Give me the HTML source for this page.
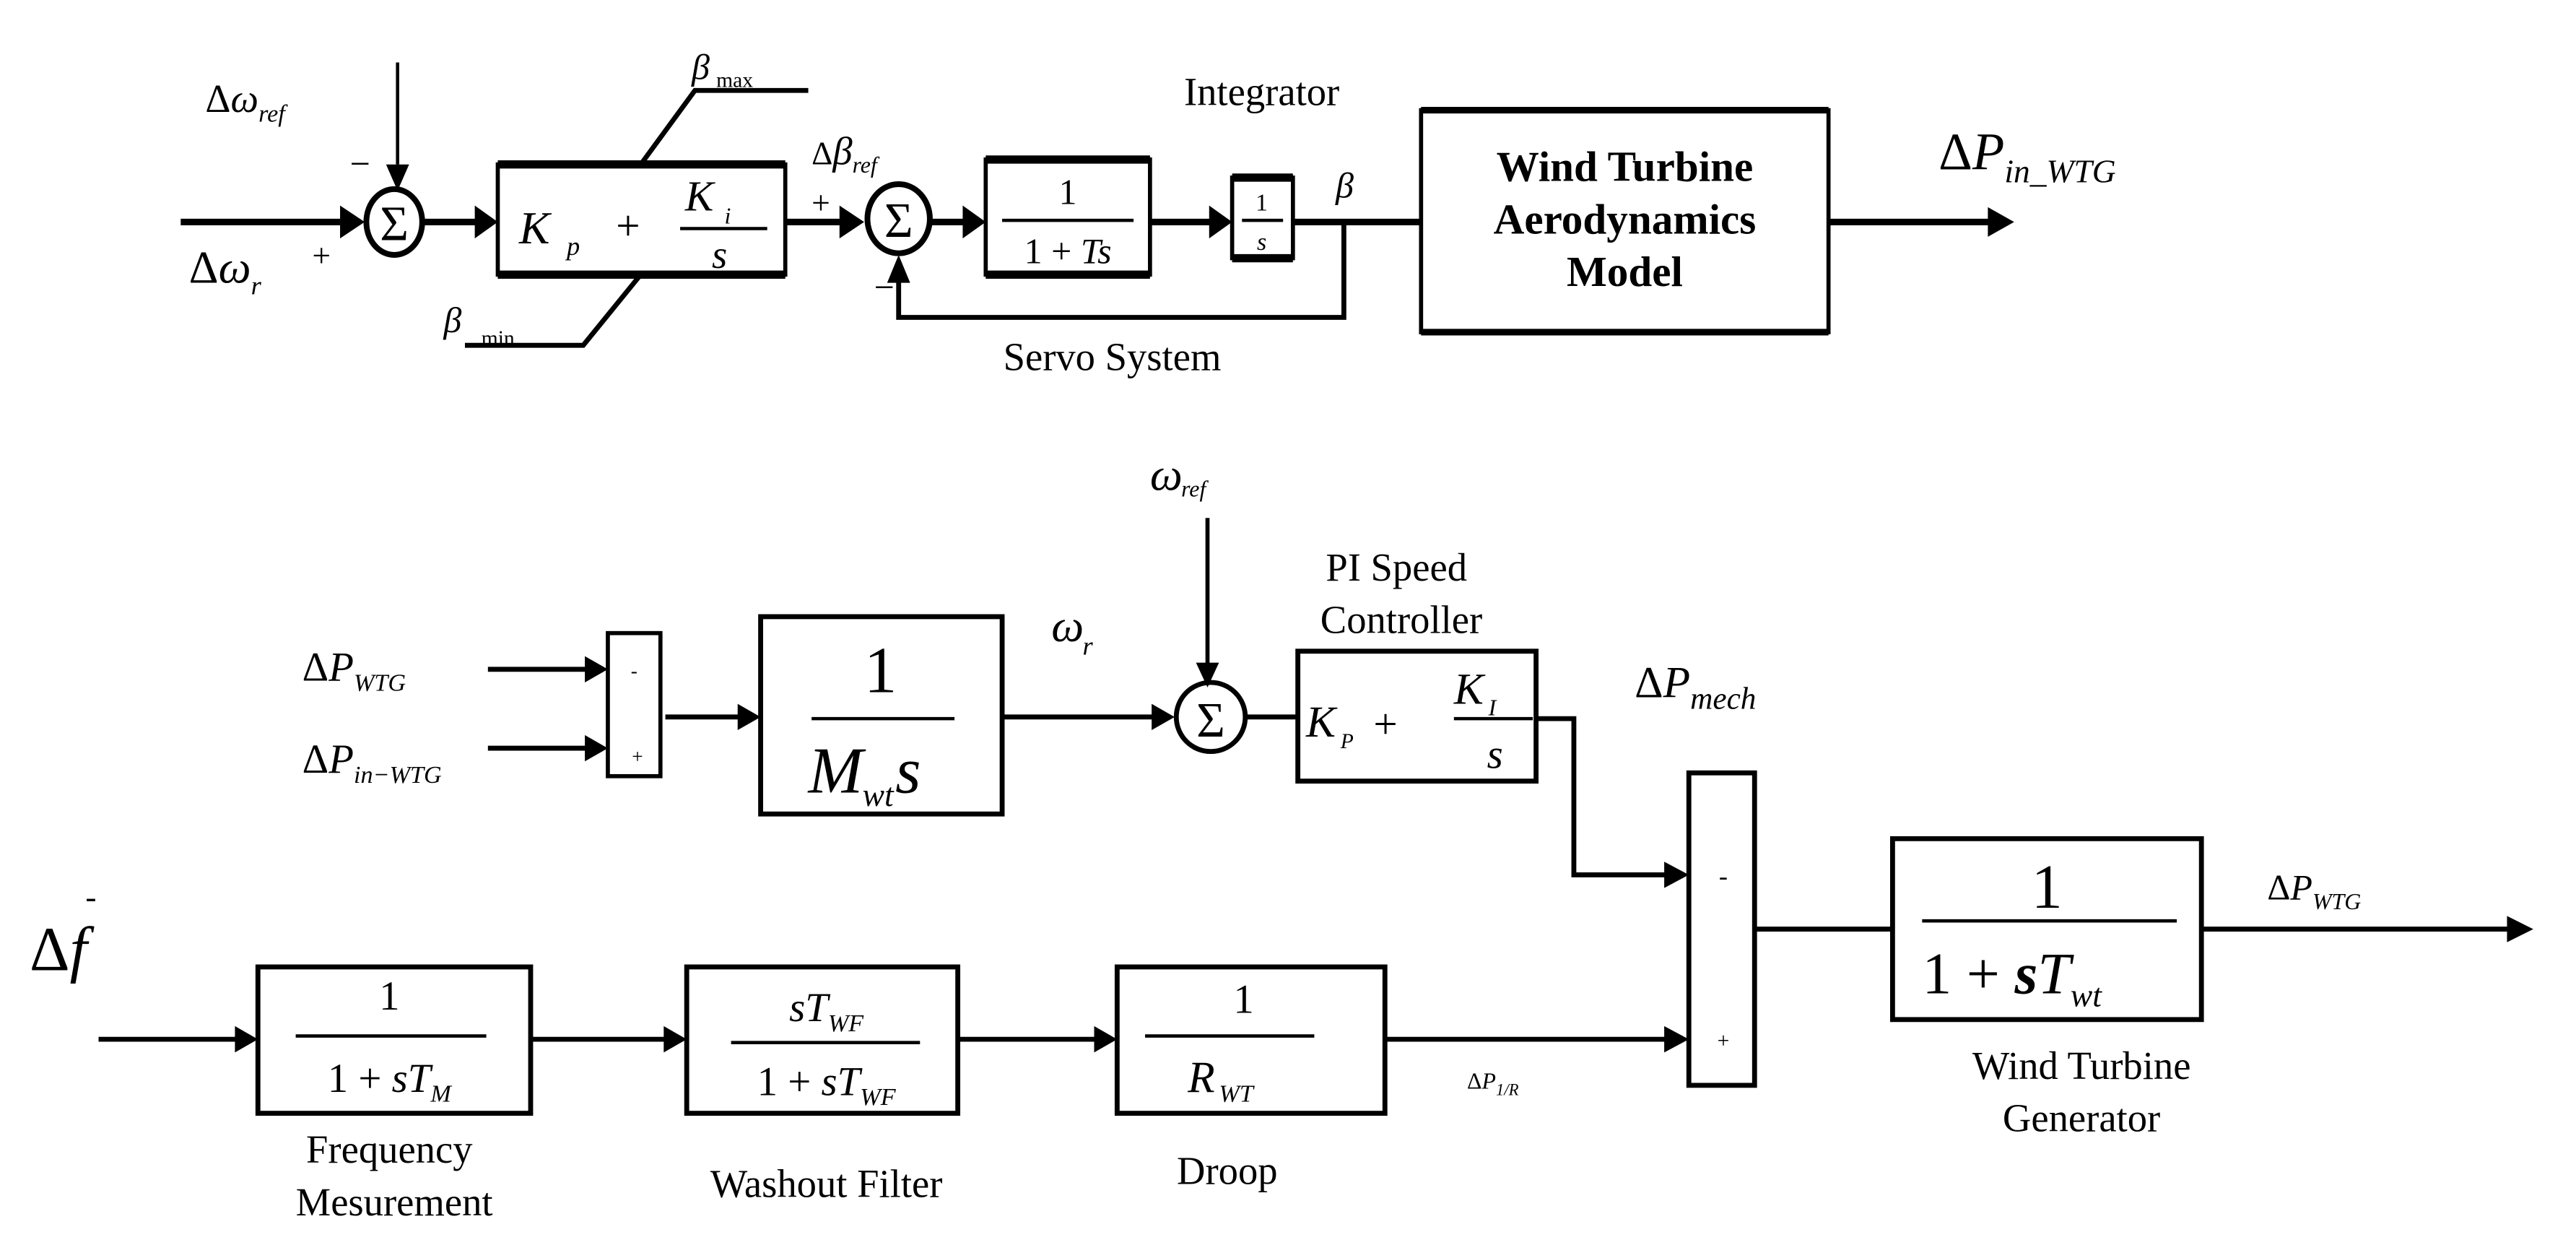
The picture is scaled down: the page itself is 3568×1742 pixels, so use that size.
<!DOCTYPE html>
<html><head><meta charset="utf-8"><style>
html,body{margin:0;padding:0;background:#fff}
svg{display:block}
text{font-family:"Liberation Serif",serif;fill:#000}
.i{font-style:italic}
</style></head><body>
<svg width="3568" height="1742" viewBox="0 0 1568 765" preserveAspectRatio="none" xmlns="http://www.w3.org/2000/svg">
<g stroke="#000" fill="none" stroke-width="3">
<line x1="110" y1="135" x2="207" y2="135" stroke-width="4"/><path d="M207,125 L222,135 L207,145z" fill="#000" stroke="none"/>
<line x1="242" y1="38" x2="242" y2="100" stroke-width="2"/><path d="M235,100 L242,116 L249,100z" fill="#000" stroke="none"/>
<ellipse cx="240" cy="135" rx="17" ry="20" stroke-width="3.5"/>
<line x1="258" y1="135" x2="290" y2="135" stroke-width="4"/><path d="M289,125 L303,135 L289,145z" fill="#000" stroke="none"/>
<rect x="303" y="100" width="175" height="67" stroke-width="2.5"/>
<line x1="303" y1="100" x2="478" y2="100" stroke-width="5"/><line x1="303" y1="167" x2="478" y2="167" stroke-width="5"/>
<polyline points="390,100 423,55 492,55" stroke-width="3"/>
<polyline points="390,167 355,210 283,210" stroke-width="3"/>
<line x1="478" y1="135" x2="512" y2="135" stroke-width="4"/><path d="M511,125 L526,135 L511,145z" fill="#000" stroke="none"/>
<ellipse cx="547" cy="133" rx="19" ry="21" stroke-width="3.5"/>
<line x1="566" y1="135" x2="588" y2="135" stroke-width="4"/><path d="M586,125 L600,135 L586,145z" fill="#000" stroke="none"/>
<rect x="600" y="97" width="100" height="70" stroke-width="2.5"/>
<line x1="600" y1="97" x2="700" y2="97" stroke-width="5"/><line x1="600" y1="167" x2="700" y2="167" stroke-width="5"/>
<line x1="700" y1="135" x2="737" y2="135" stroke-width="4"/><path d="M736,125 L750,135 L736,145z" fill="#000" stroke="none"/>
<rect x="750" y="108" width="37" height="49" stroke-width="2.5"/>
<line x1="750" y1="108" x2="787" y2="108" stroke-width="5"/><line x1="750" y1="157" x2="787" y2="157" stroke-width="5"/>
<line x1="787" y1="135" x2="865" y2="135" stroke-width="4"/>
<polyline points="818,135 818,193 547,193 547,170" stroke-width="3"/><path d="M540,172 L547,155 L554,172z" fill="#000" stroke="none"/>
<rect x="865" y="67" width="248" height="135" stroke-width="2.5"/>
<line x1="865" y1="67" x2="1113" y2="67" stroke-width="4"/><line x1="865" y1="202" x2="1113" y2="202" stroke-width="4"/>
<line x1="1113" y1="135" x2="1212" y2="135" stroke-width="4"/><path d="M1210,126 L1226,135 L1210,144z" fill="#000" stroke="none"/>
<line x1="297" y1="407" x2="358" y2="407" stroke-width="3"/><path d="M356,399 L370,407 L356,415z" fill="#000" stroke="none"/>
<line x1="297" y1="455" x2="358" y2="455" stroke-width="3"/><path d="M356,447 L370,455 L356,463z" fill="#000" stroke="none"/>
<rect x="370" y="385" width="32" height="87" stroke-width="2.5"/>
<line x1="405" y1="436" x2="450" y2="436" stroke-width="3"/><path d="M449,428 L463,436 L449,444z" fill="#000" stroke="none"/>
<rect x="463" y="375" width="147" height="120" stroke-width="3"/>
<line x1="610" y1="436" x2="703" y2="436" stroke-width="3"/><path d="M701,428 L715,436 L701,444z" fill="#000" stroke="none"/>
<line x1="735" y1="315" x2="735" y2="405" stroke-width="2.5"/><path d="M728,403 L735,418 L742,403z" fill="#000" stroke="none"/>
<circle cx="737" cy="436" r="21" stroke-width="3"/>
<line x1="758" y1="436" x2="790" y2="436" stroke-width="3"/>
<rect x="790" y="396" width="145" height="79" stroke-width="3"/>
<polyline points="935,437 958,437 958,532 1015,532" stroke-width="3"/><path d="M1013,524 L1028,532 L1013,540z" fill="#000" stroke="none"/>
<rect x="1028" y="470" width="40" height="190" stroke-width="3"/>
<line x1="1068" y1="565" x2="1152" y2="565" stroke-width="3"/>
<rect x="1152" y="510" width="188" height="110" stroke-width="3"/>
<line x1="1340" y1="565" x2="1528" y2="565" stroke-width="3"/><path d="M1526,557 L1542,565 L1526,573z" fill="#000" stroke="none"/>
<line x1="60" y1="632" x2="144" y2="632" stroke-width="3"/><path d="M143,624 L157,632 L143,640z" fill="#000" stroke="none"/>
<rect x="157" y="588" width="166" height="89" stroke-width="3"/>
<line x1="323" y1="632" x2="405" y2="632" stroke-width="3"/><path d="M404,624 L418,632 L404,640z" fill="#000" stroke="none"/>
<rect x="418" y="588" width="165" height="89" stroke-width="3"/>
<line x1="583" y1="632" x2="667" y2="632" stroke-width="3"/><path d="M666,624 L680,632 L666,640z" fill="#000" stroke="none"/>
<rect x="680" y="588" width="163" height="89" stroke-width="3"/>
<line x1="843" y1="632" x2="1015" y2="632" stroke-width="3"/><path d="M1013,624 L1028,632 L1013,640z" fill="#000" stroke="none"/>
<line x1="414" y1="139" x2="467" y2="139" stroke-width="2"/>
<line x1="610" y1="134" x2="690" y2="134" stroke-width="2"/>
<line x1="756" y1="134" x2="781" y2="134" stroke-width="2"/>
<line x1="494" y1="437" x2="581" y2="437" stroke-width="2"/>
<line x1="885" y1="437" x2="933" y2="437" stroke-width="2"/>
<line x1="1170" y1="560" x2="1325" y2="560" stroke-width="2"/>
<line x1="180" y1="630" x2="296" y2="630" stroke-width="2"/>
<line x1="445" y1="634" x2="560" y2="634" stroke-width="2"/>
<line x1="697" y1="630" x2="800" y2="630" stroke-width="2"/>
</g>
<text x="125" y="68" font-size="24">Δ<tspan class="i">ω</tspan><tspan class="i" font-size="15" dy="6">ref</tspan></text>
<text x="213" y="107" font-size="22">−</text>
<text x="115" y="172" font-size="28">Δ<tspan class="i">ω</tspan><tspan class="i" font-size="16" dy="7">r</tspan></text>
<text x="190" y="162" font-size="20">+</text>
<text x="240" y="146" font-size="30" text-anchor="middle">Σ</text>
<text x="547" y="144" font-size="30" text-anchor="middle">Σ</text>
<text x="316" y="148" font-size="28" class="i">K</text><text x="345" y="155" font-size="16" class="i">p</text>
<text x="375" y="146" font-size="26">+</text>
<text x="417" y="128" font-size="26" class="i">K</text><text x="441" y="136" font-size="14" class="i">i</text>
<text x="438" y="163" font-size="24" class="i" text-anchor="middle">s</text>
<text x="421" y="48" font-size="22" class="i">β</text><text x="436" y="53" font-size="13">max</text>
<text x="270" y="202" font-size="22" class="i">β</text><text x="293" y="210" font-size="13">min</text>
<text x="494" y="100" font-size="20">Δ<tspan class="i" font-size="24">β</tspan><tspan class="i" font-size="14" dy="5">ref</tspan></text>
<text x="494" y="130" font-size="20">+</text>
<text x="532" y="182" font-size="22">−</text>
<text x="650" y="124" font-size="22" text-anchor="middle">1</text>
<text x="650" y="160" font-size="22" text-anchor="middle">1 + <tspan class="i">Ts</tspan></text>
<text x="768" y="128" font-size="15" text-anchor="middle">1</text>
<text x="768" y="152" font-size="15" class="i" text-anchor="middle">s</text>
<text x="813" y="120" font-size="22" class="i">β</text>
<text x="768" y="64" font-size="24" text-anchor="middle">Integrator</text>
<text x="677" y="225" font-size="24" text-anchor="middle">Servo System</text>
<text x="989" y="110" font-size="26" font-weight="bold" text-anchor="middle">Wind Turbine</text>
<text x="989" y="142" font-size="26" font-weight="bold" text-anchor="middle">Aerodynamics</text>
<text x="989" y="174" font-size="26" font-weight="bold" text-anchor="middle">Model</text>
<text x="1180" y="103" font-size="32">Δ<tspan class="i">P</tspan><tspan class="i" font-size="20" dy="8">in_WTG</tspan></text>
<text x="700" y="298" font-size="28" class="i">ω</text><text x="719" y="302" font-size="14" class="i">ref</text>
<text x="184" y="414" font-size="25">Δ<tspan class="i">P</tspan><tspan class="i" font-size="15" dy="6">WTG</tspan></text>
<text x="184" y="470" font-size="25">Δ<tspan class="i">P</tspan><tspan class="i" font-size="15" dy="6">in−WTG</tspan></text>
<text x="386" y="412" font-size="12" text-anchor="middle">-</text>
<text x="388" y="464" font-size="12" text-anchor="middle">+</text>
<text x="536" y="421" font-size="40" text-anchor="middle">1</text>
<text x="492" y="482" font-size="40" class="i">M</text><text x="525" y="490" font-size="20" class="i">wt</text><text x="545" y="482" font-size="40" class="i">s</text>
<text x="640" y="390" font-size="28" class="i">ω</text><text x="659" y="398" font-size="16" class="i">r</text>
<text x="737" y="448" font-size="30" text-anchor="middle">Σ</text>
<text x="850" y="353" font-size="24" text-anchor="middle">PI Speed</text>
<text x="853" y="385" font-size="24" text-anchor="middle">Controller</text>
<text x="795" y="448" font-size="27" class="i">K</text><text x="816" y="455" font-size="13" class="i">P</text>
<text x="836" y="449" font-size="26">+</text>
<text x="885" y="428" font-size="27" class="i">K</text><text x="906" y="435" font-size="14" class="i">I</text>
<text x="910" y="467" font-size="25" class="i" text-anchor="middle">s</text>
<text x="995" y="424" font-size="27">Δ<tspan class="i">P</tspan><tspan class="i" font-size="19" dy="7">mech</tspan></text>
<text x="1049" y="538" font-size="16" text-anchor="middle">-</text>
<text x="1049" y="637" font-size="13" text-anchor="middle">+</text>
<text x="1246" y="552" font-size="38" text-anchor="middle">1</text>
<text x="1170" y="604" font-size="36">1 + <tspan class="i" font-weight="bold">s</tspan><tspan class="i">T</tspan><tspan class="i" font-size="20" dy="8">wt</tspan></text>
<text x="1380" y="547" font-size="22">Δ<tspan class="i">P</tspan><tspan class="i" font-size="14" dy="6">WTG</tspan></text>
<text x="1267" y="656" font-size="24" text-anchor="middle">Wind Turbine</text>
<text x="1267" y="688" font-size="24" text-anchor="middle">Generator</text>
<text x="18" y="590" font-size="38">Δ<tspan class="i">f</tspan></text>
<text x="52" y="552" font-size="20">-</text>
<text x="237" y="614" font-size="25" text-anchor="middle">1</text>
<text x="237" y="664" font-size="25" text-anchor="middle">1 + <tspan class="i">sT</tspan><tspan class="i" font-size="15" dy="6">M</tspan></text>
<text x="503" y="621" font-size="25" text-anchor="middle" class="i">sT<tspan font-size="15" dy="6">WF</tspan></text>
<text x="503" y="666" font-size="25" text-anchor="middle">1 + <tspan class="i">sT</tspan><tspan class="i" font-size="15" dy="6">WF</tspan></text>
<text x="757" y="616" font-size="25" text-anchor="middle">1</text>
<text x="723" y="664" font-size="27" class="i">R</text><text x="742" y="670" font-size="15" class="i">WT</text>
<text x="237" y="707" font-size="24" text-anchor="middle">Frequency</text>
<text x="240" y="739" font-size="24" text-anchor="middle">Mesurement</text>
<text x="503" y="728" font-size="24" text-anchor="middle">Washout Filter</text>
<text x="747" y="720" font-size="24" text-anchor="middle">Droop</text>
<text x="893" y="662" font-size="14">Δ<tspan class="i">P</tspan><tspan font-size="10" dy="4" class="i">1/R</tspan></text>
</svg>
</body></html>
